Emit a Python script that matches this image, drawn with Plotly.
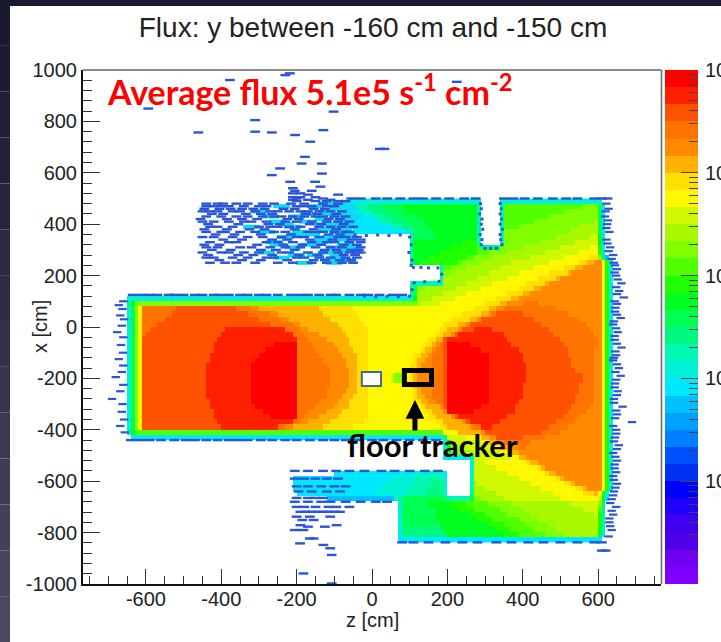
import plotly.graph_objects as go

W, H = 721, 642
BAND_COLORS = ["#ff0000", "#ff2000", "#ff5200", "#ff7400", "#ff8a00", "#ffb000", "#ffe000", "#fff800",
               "#d0f800", "#a8f800", "#80ff00", "#50ff00", "#20ff00", "#00ff20", "#00ff50", "#00f880",
               "#00f8b0", "#00f0d8", "#00e8ff", "#00c0ff", "#00a0ff", "#0080ff", "#0050ff", "#0030f0",
               "#0000ff", "#2000f8", "#4000f0", "#5000e8", "#7000f0", "#8000ff"]
DECADES = [3, 4, 5, 6, 7]
COLORBAR_LABELS = ["10"] * 5
FLUX_MIN_EXP, FLUX_MAX_EXP = 2, 7
Z_TICKS = [-600, -400, -200, 0, 200, 400, 600]
X_TICKS = [-1000, -800, -600, -400, -200, 0, 200, 400, 600, 800, 1000]

L = [(-650, 17), (-640, 14), (-630, 10), (-620, 7)]
R = [(610, 7), (620, 12), (630, 17), (640, -1)]

ROW_X = list(range(490, -831, -20))
ROW_SEGMENTS = [
    [(-60,17),(290,-1),(340,17),(610,-1)],
    [(-110,18),(-40,16),(-10,15),(30,14),(80,13),(280,16),(290,-1),(340,16),(350,11),(560,10),(600,14),(610,18),(620,-1)],
    [(-90,18),(-30,16),(0,15),(40,14),(90,13),(280,16),(290,-1),(340,16),(350,11),(510,10),(600,14),(610,18),(620,-1)],
    [(-80,18),(0,16),(30,15),(70,14),(120,13),(280,16),(290,-1),(340,16),(350,11),(470,10),(600,14),(610,18),(620,-1)],
    [(-70,18),(20,16),(50,15),(90,14),(140,13),(280,16),(290,-1),(340,16),(350,11),(430,10),(590,9),(600,14),(610,18),(620,-1)],
    [(-60,18),(50,16),(80,15),(110,14),(150,13),(280,16),(290,-1),(340,16),(350,11),(390,10),(550,9),(600,14),(610,18),(620,-1)],
    [(-50,18),(100,15),(120,14),(160,13),(280,16),(290,-1),(340,16),(350,10),(530,9),(600,14),(610,18),(620,-1)],
    [(100,16),(110,14),(170,13),(280,16),(290,-1),(340,16),(350,10),(490,9),(580,8),(600,13),(610,18),(620,-1)],
    [(100,16),(110,13),(240,12),(280,16),(290,-1),(340,16),(350,10),(450,9),(540,8),(600,13),(610,18),(620,-1)],
    [(100,16),(110,13),(210,12),(280,11),(290,15),(340,10),(400,9),(500,8),(580,7),(600,12),(610,17),(620,-1)],
    [(100,16),(110,13),(180,12),(280,11),(310,10),(360,9),(460,8),(550,7),(600,12),(610,17),(620,-1)],
    [(100,16),(110,13),(150,12),(250,11),(270,10),(320,9),(420,8),(510,7),(580,6),(600,10),(610,15),(620,19),(630,-1)],
    [(100,16),(110,13),(130,12),(230,11),(240,10),(290,9),(370,8),(470,7),(550,6),(570,5),(590,4)] + R,
    [(180,16),(190,11),(210,10),(250,9),(340,8),(430,7),(510,6),(540,5),(560,4)] + R,
    [(180,16),(190,10),(220,9),(310,8),(390,7),(470,6),(520,5),(530,4)] + R,
    [(180,16),(190,9),(280,8),(360,7),(440,6),(490,5),(500,4)] + R,
    [(100,16),(190,9),(250,8),(320,7),(410,6),(460,5),(470,4)] + R,
    [(100,16),(110,14),(120,10),(140,9),(220,8),(290,7),(390,6),(430,5),(450,4)] + R,
    [(100,16),(110,14),(120,9),(190,8),(250,7),(360,6),(400,5),(420,4)] + R,
    [(-650,17),(110,13),(120,9),(160,8),(220,7),(330,6),(370,5),(390,4)] + R,
    [(-650,15),(-640,13),(-630,10),(120,9),(130,8),(180,7),(300,6),(340,5),(360,4),(400,3),(440,4)] + R,
    L + [(-610,3),(-520,2),(-360,3),(-320,4),(-300,5),(-140,6),(-50,7),(270,6),(310,5),(330,4),(350,3),(490,4)] + R,
    L + [(-610,3),(-530,2),(-330,3),(-270,4),(-250,5),(-130,6),(-40,7),(240,6),(290,5),(310,4),(320,3),(330,2),(400,3),(520,4)] + R,
    L + [(-610,3),(-550,2),(-300,3),(-240,4),(-220,5),(-110,6),(-30,7),(210,6),(260,5),(280,4),(290,2),(430,3),(550,4)] + R,
    L + [(-610,3),(-570,2),(-270,3),(-210,4),(-190,5),(-90,6),(-20,7),(190,6),(230,5),(250,4),(260,2),(450,3),(570,4)] + R,
    L + [(-610,3),(-590,2),(-390,1),(-230,3),(-190,4),(-170,5),(-80,6),(-10,7),(180,6),(200,5),(230,4),(240,2),(270,1),(320,2),(470,3),(580,4)] + R,
    L + [(-610,3),(-600,2),(-400,1),(-210,3),(-180,4),(-140,5),(-70,6),(-10,7),(170,6),(190,5),(210,4),(220,2),(230,1),(350,2),(480,3),(590,4)] + R,
    L + [(-610,2),(-410,1),(-200,3),(-170,4),(-120,5),(-60,6),(-10,7),(150,6),(170,5),(190,2),(200,1),(360,2),(500,3),(600,4)] + R,
    L + [(-610,2),(-420,1),(-260,0),(-200,3),(-160,4),(-100,5),(-60,6),(-10,7),(140,6),(160,5),(170,4),(180,3),(190,2),(200,0),(260,1),(370,2),(510,3),(600,4)] + R,
    L + [(-610,2),(-420,1),(-280,0),(-200,3),(-150,4),(-90,5),(-50,6),(-10,7),(130,6),(140,5),(160,4),(170,3),(190,2),(200,0),(290,1),(390,2),(520,3),(590,4)] + R,
    L + [(-610,2),(-430,1),(-300,0),(-200,3),(-140,4),(-80,5),(-40,6),(-10,7),(110,6),(130,5),(150,4),(160,3),(190,2),(200,0),(310,1),(400,2),(520,3),(590,4)] + R,
    L + [(-610,2),(-430,1),(-310,0),(-200,3),(-130,4),(-70,5),(-40,6),(-10,7),(110,6),(120,5),(140,4),(160,3),(190,2),(200,0),(310,1),(400,2),(530,3),(590,4)] + R,
    L + [(-610,2),(-440,1),(-320,0),(-200,3),(-120,4),(-70,5),(-40,6),(-10,7),(100,6),(120,5),(130,4),(160,3),(190,2),(200,0),(310,1),(410,2),(530,3),(590,4)] + R,
    L + [(-610,2),(-440,1),(-320,0),(-200,3),(-110,4),(-60,5),(-40,6),(-10,7),(100,6),(110,5),(130,4),(160,3),(190,2),(200,0),(310,1),(410,2),(540,3),(590,4)] + R,
    L + [(-610,2),(-440,1),(-320,0),(-200,3),(-110,4),(-60,5),(-40,6),(-20,-1),(20,7),(50,8),(60,10),(80,7),(100,6),(110,5),(120,4),(160,3),(190,2),(200,0),(310,1),(410,2),(560,3),(590,4)] + R,
    L + [(-610,2),(-440,1),(-320,0),(-200,3),(-110,4),(-60,5),(-40,6),(-20,-1),(20,7),(50,8),(60,10),(80,7),(100,6),(110,5),(120,4),(160,3),(190,2),(200,0),(310,1),(410,2),(560,3),(590,4)] + R,
    L + [(-610,2),(-440,1),(-320,0),(-200,3),(-110,4),(-60,5),(-40,6),(-10,7),(100,6),(110,5),(120,4),(160,3),(190,2),(200,0),(310,1),(400,2),(550,3),(590,4)] + R,
    L + [(-610,2),(-440,1),(-320,0),(-200,3),(-120,4),(-70,5),(-40,6),(-10,7),(110,6),(120,5),(130,4),(160,3),(190,2),(200,0),(310,1),(400,2),(550,3),(590,4)] + R,
    L + [(-610,2),(-440,1),(-320,0),(-200,3),(-120,4),(-80,5),(-50,6),(-10,7),(110,6),(120,5),(140,4),(160,3),(190,2),(200,0),(310,1),(400,2),(540,3),(590,4)] + R,
    L + [(-610,2),(-430,1),(-320,0),(-200,3),(-140,4),(-90,5),(-60,6),(-10,7),(110,6),(130,5),(150,4),(170,3),(190,2),(200,0),(310,1),(390,2),(540,3),(590,4)] + R,
    L + [(-610,2),(-430,1),(-310,0),(-200,3),(-150,4),(-100,5),(-60,6),(-10,7),(130,6),(140,5),(180,4),(190,2),(200,0),(290,1),(380,2),(530,3),(580,4)] + R,
    L + [(-610,2),(-420,1),(-290,0),(-200,3),(-170,4),(-120,5),(-80,6),(-10,7),(140,6),(160,5),(190,4),(200,0),(270,1),(380,2),(520,3),(570,4)] + R,
    L + [(-610,2),(-420,1),(-270,0),(-200,3),(-180,4),(-140,5),(-90,6),(-10,7),(150,6),(170,5),(210,4),(220,2),(230,1),(360,2),(510,3),(550,4)] + R,
    L + [(-610,2),(-410,1),(-210,3),(-190,4),(-170,5),(-110,6),(-20,7),(170,6),(190,5),(240,4),(250,2),(260,1),(340,2),(490,3),(540,4)] + R,
    L + [(-610,2),(-400,1),(-250,3),(-230,4),(-210,5),(-130,6),(-50,7),(180,6),(200,5),(260,4),(270,3),(290,1),(320,2),(470,3),(520,4)] + R,
    [(-650,17),(-640,13),(-630,11),(190,7),(230,5),(290,4),(300,2),(450,3),(500,4)] + R,
    [(-640,18),(190,15),(200,8),(250,7),(290,5),(310,4),(330,2),(400,3),(460,4)] + R,
    [(190,17),(200,13),(210,8),(290,7),(310,5),(330,4),(350,3),(420,4)] + R,
    [(190,17),(200,13),(210,9),(240,8),(310,7),(340,5),(360,4),(390,3),(410,4)] + R,
    [(190,17),(200,13),(210,10),(240,9),(270,8),(340,7),(360,5),(390,4)] + R,
    [(190,18),(260,15),(270,8),(370,7),(390,5),(410,4)] + R,
    [(260,17),(270,8),(300,7),(410,6),(420,5),(440,4)] + R,
    [(260,17),(270,8),(330,7),(440,6),(450,5),(460,4)] + R,
    [(-100,18),(100,17),(160,16),(190,18),(200,-1),(260,17),(270,8),(360,7),(460,6),(470,5),(490,4)] + R,
    [(-210,18),(50,17),(120,16),(190,18),(200,-1),(260,16),(270,8),(390,7),(490,6),(500,5),(510,4)] + R,
    [(-210,18),(30,17),(110,16),(160,15),(190,17),(200,-1),(260,16),(270,9),(280,8),(420,7),(510,6),(530,5),(540,4)] + R,
    [(-210,18),(20,17),(100,16),(150,15),(190,17),(200,-1),(260,16),(270,9),(300,8),(450,7),(540,6),(560,5),(570,4)] + R,
    [(-200,18),(10,17),(90,16),(140,15),(190,17),(200,-1),(260,15),(270,9),(330,8),(480,7),(560,6),(590,5),(600,7),(610,12),(620,17),(630,-1)],
    [(-120,19),(60,17),(70,15),(90,14),(200,16),(260,14),(270,10),(290,9),(350,8),(500,7),(600,8),(610,13),(620,18),(630,-1)],
    [(70,17),(80,14),(150,13),(210,12),(250,11),(310,10),(370,9),(530,8),(600,10),(610,15),(620,-1)],
    [(70,17),(80,14),(170,13),(230,12),(270,11),(340,10),(400,9),(560,8),(600,11),(610,15),(620,-1)],
    [(70,17),(80,14),(170,13),(260,12),(300,11),(360,10),(420,9),(590,8),(600,12),(610,16),(620,-1)],
    [(70,17),(80,14),(170,13),(280,12),(320,11),(390,10),(440,9),(600,12),(610,16),(620,-1)],
    [(70,17),(80,14),(180,13),(310,12),(350,11),(410,10),(470,9),(600,12),(610,16),(620,-1)],
    [(70,17),(80,15),(190,13),(330,12),(370,11),(430,10),(490,9),(600,13),(610,17),(620,-1)],
    [(70,18),(80,15),(200,13),(350,12),(390,11),(460,10),(510,9),(600,14),(610,18),(620,-1)],
    [(70,18),(610,-1)],
]

# Scattered low-flux hits: (z, x) pairs, grouped by x row.
HIT_ROWS_BLUE = {
    987:[-218],961:[-377],954:[225],850:[-594],838:[-102],805:[-310],766:[-129],760:[-310],757:[-266,-461],747:[-204],721:[-164],693:[21,33],
    662:[-178],636:[-187,-133],617:[-244],597:[-133],591:[-266],565:[-217,-151],546:[-137],
    540:[-210],530:[-205,-160],520:[-190,-210],515:[-170,-90],505:[-150,-210,-190],500:[-130,-200,-55,-30,10,40,75,110,135,170,205,245,275,350,375,405,440,480,515,545,590,610,625],
    495:[-110,-210,-170],490:[-90,-70,-200,-120,-150],
    480:[-440,-410,-395,-360,-330,-290,-260,-215,-180,-130,-90],
    470:[-440,-420,-400,-380,-340,-300,-280,-200,-180,-160,-120,-100],
    460:[-445,-405,-375,-345,-315,-285,-235,-205,-155,-125],
    450:[-450,-430,-410,-370,-350,-310,-270,-250,-220,-190,-170,-140,-110,-80],
    440:[-425,-395,-335,-295,-265,-175,-145,-95],
    430:[-440,-400,-360,-330,-290,-260,-240,-210,-180,-150,-130,-100,-70],
    420:[-455,-385,-345,-305,-225,-195,-115,-85],
    410:[-450,-420,-380,-340,-320,-280,-230,-200,-160,-120,-90,-60],
    400:[-435,-355,-275,-245,-165,-135,-75],
    390:[-430,-410,-370,-300,-270,-250,-220,-190,-140,-110,-80,-50],
    380:[-445,-385,-325,-285,-205,-155,-95],
    370:[-440,-400,-390,-350,-310,-260,-230,-170,-150,-130,-100,-70,-60],
    360:[-415,-365,-295,-215,-115,-85],
    350:[-450,-420,-370,-330,-290,-240,-200,-180,-140,-90,-70,-40],
    340:[-395,-345,-265,-225,-165,-105,-55,-30],
    330:[-430,-380,-360,-280,-250,-210,-160,-120,-100,-60,-30],
    320:[-445,-405,-305,-235,-185,-135,-75,-40],
    310:[-440,-410,-350,-320,-270,-230,-190,-150,-110,-80,-30],
    300:[-425,-375,-295,-255,-205,-125,-95,-55,-35],
    290:[-450,-400,-380,-340,-300,-240,-220,-170,-130,-90,-60,-40,-30],
    280:[-435,-355,-315,-265,-195,-145,-75,-45],
    270:[-440,-420,-370,-330,-280,-260,-200,-180,-140,-110,-70,-40],
    260:[-405,-345,-295,-225,-155,-125,-85,-55],
    250:[-430,-390,-360,-310,-250,-210,-160,-120,-80,-50],
    125:[-635,-610,-590,-570,-540,-525,-500,-470,-450,-420,-405,-380,-350,-330,-300,-280,-250,-215,-190,-170,-140,-110,-95,-60,-30,-10,20,55,80],
    -440:[-640,-615,-590,-560,-525,-495,-470,-440,-410,-380,-355,-330,-295,-265,-230,-200,-165,-130,-100,-70,-35,0,30,65,100,135,170],
    -560:[-205,-170,-130,-95,-60,-20,25,60,100,140,175],
    -590:[-205,-180,-150,-120,-90],
    -620:[-200,-170,-135,-100,-70],
    -640:[-195,-160,-120,-85],
    -665:[-200,-170,-150,-130],
    -680:[-205,-170,-135,-110,-70,-30,10,40],
    -700:[-200,-180,-150,-115,-95,-60],
    -719:[-190,-175,-160,-145,-130,-115,-100,-85],
    -738:[-200,-165,-111],
    -751:[-155,-185],-777:[-125,-170],-771:[-94,-190],-790:[-182,-205],-823:[-155,-165],-842:[-191],-848:[-129],-861:[-111],-887:[-107],-959:[-182],-998:[-107],
    -838:[80,110,150,195,240,280,330,370,415,455,500,545,590,610],
    -870:[610,620],
    980:[-230],
}
EDGE_LEFT_X = [100,85,70,45,30,5,-20,-40,-70,-100,-125,-150,-175,-195,-225,-250,-280,-300,-330,-360,-385,-410]
EDGE_LEFT_Z = [-660,-672,-662,-668,-658,-664,-676,-660,-666,-661,-672,-660,-664,-680,-660,-668,-690,-662,-664,-658,-668,-656]
EDGE_RIGHT_X = [480,460,430,400,370,340,310,280,250,225,200,170,140,115,90,60,35,10,-20,-50,-80,-110,-130,-160,-190,-220,-250,-280,-310,-340,-370,-400,-430,-460,-490,-520,-550,-580,-610,-640,-670,-700,-730,-760,-790,-815,
                450,415,385,325,295,265,240,212,185,155,128,100,75,48,22,-5,-35,-65,-95,-120,-145,-175,-205,-235,-265,-295,-325,-355,-385,-415,-445,-475,-505,-535,-565,-595,-625,-655,-685,-715,-745,-775]
EDGE_RIGHT_Z = [622,628,618,624,630,622,632,640,642,650,648,662,656,668,650,645,660,640,652,644,662,648,640,655,660,645,652,642,665,650,690,648,645,655,640,650,644,640,650,642,636,648,640,630,636,628,
                620,626,622,625,628,636,645,644,652,648,650,644,646,650,642,648,644,650,646,642,650,646,648,644,650,642,648,645,640,648,642,650,646,644,648,642,646,640,632,636,630,632]
CYAN_HIT_X = [470,470,450,450,430,430,430,410,410,410,390,390,390,370,370,370,350,350,330,330,310,310,290,290,270,270,250,440,400,360,320,280,440,400,360,320,280,460,420,380,340,300,260,
              480,480,460,440,420,400,380,360,340,320,300,280,260,250,470,430,390,350,310]
CYAN_HIT_Z = [-240,-150,-300,-120,-270,-200,-90,-250,-170,-80,-320,-210,-100,-280,-190,-90,-230,-110,-260,-140,-210,-100,-280,-120,-240,-90,-180,-170,-230,-160,-170,-200,-110,-130,-200,-250,-150,-90,-130,-120,-80,-70,-110,
              -120,-75,-60,-70,-60,-95,-75,-65,-130,-70,-60,-90,-65,-100,-65,-50,-55,-60,-50]
NOTCH_RIM_X = [480,460,440,420,400,380,360,340,320,306,306,306,320,340,360,380,400,420,440,460,480]
NOTCH_RIM_Z = [288,290,286,292,290,294,287,292,290,300,315,330,345,342,340,346,340,344,340,343,340]
CUTOUT_RIM_Z = [-45,-15,15,45,75,100,104,98,106,104,110,130,150,175,185,178,140,112,106,100,70,40,10,-20,-50,-60]
CUTOUT_RIM_X = [358,356,358,356,358,350,320,290,260,240,232,232,230,230,205,178,176,172,145,120,118,120,118,120,290,260]


def level_to_exp(level):
    return FLUX_MAX_EXP - (level + 0.5) * (FLUX_MAX_EXP - FLUX_MIN_EXP) / len(BAND_COLORS)


z_centers = [c + 5 for c in range(-770, 770, 10)]
matrix = []
for segs in ROW_SEGMENTS:
    row = [None] * len(z_centers)
    for (start, lev), (end, _) in zip(segs, segs[1:] + [(770, -1)]):
        if lev < 0:
            continue
        for i, c in enumerate(z_centers):
            if start <= c - 5 < end:
                row[i] = level_to_exp(lev)
    matrix.append(row)

n = len(BAND_COLORS)
colorscale = []
for i, col in enumerate(reversed(BAND_COLORS)):
    colorscale.append([i / n, col])
    colorscale.append([(i + 1) / n, col])

hit_x, hit_z = [], []
for xv, zs in HIT_ROWS_BLUE.items():
    for zv in zs:
        hit_x.append(xv)
        hit_z.append(zv)

fig = go.Figure()
fig.add_trace(go.Heatmap(x=z_centers, y=ROW_X, z=matrix, colorscale=colorscale, zmin=FLUX_MIN_EXP, zmax=FLUX_MAX_EXP,
                         showscale=False, hoverongaps=False, xaxis="x", yaxis="y"))
fig.add_trace(go.Scatter(x=CYAN_HIT_Z, y=CYAN_HIT_X, mode="markers",
                         marker=dict(symbol="line-ew", size=12, line=dict(width=4, color="#10d8f0")),
                         showlegend=False, xaxis="x", yaxis="y"))
fig.add_trace(go.Scatter(x=hit_z, y=hit_x, mode="markers",
                         marker=dict(symbol="line-ew", size=7, line=dict(width=2.4, color="#2a55d8")),
                         showlegend=False, xaxis="x", yaxis="y"))
fig.add_trace(go.Scatter(x=EDGE_LEFT_Z + EDGE_RIGHT_Z, y=EDGE_LEFT_X + EDGE_RIGHT_X, mode="markers",
                         marker=dict(symbol="line-ew", size=6, line=dict(width=2.2, color="#2a55d8")),
                         showlegend=False, xaxis="x", yaxis="y"))
fig.add_trace(go.Scatter(x=NOTCH_RIM_Z + CUTOUT_RIM_Z, y=NOTCH_RIM_X + CUTOUT_RIM_X, mode="markers",
                         marker=dict(symbol="square", size=3, color="#2a55d8", line=dict(width=0)),
                         showlegend=False, xaxis="x", yaxis="y"))
bar_centres = [level_to_exp(i) for i in range(n)]
fig.add_trace(go.Heatmap(x=[0.5], y=bar_centres, z=[[v] for v in bar_centres], colorscale=colorscale,
                         zmin=FLUX_MIN_EXP, zmax=FLUX_MAX_EXP, showscale=False, xaxis="x2", yaxis="y2"))

TICK_FONT = dict(family="Liberation Sans", size=20, color="#222222")
dom_y = [1 - 584 / H, 1 - 70 / H]
minor_bar = [d + m for d in range(FLUX_MIN_EXP, FLUX_MAX_EXP)
             for m in (0.301, 0.477, 0.602, 0.699, 0.778, 0.845, 0.903, 0.954)]


def px_x(v):
    return v / W


def px_y(v):
    return 1 - v / H


shapes = [
    dict(type="rect", xref="paper", yref="paper", x0=0, x1=1, y0=0, y1=px_y(6), fillcolor="white",
         line=dict(width=0), layer="below"),
]
STRIP_COLORS = ["#191930", "#1b1b32", "#1e1e36", "#21213a", "#25253e", "#292942", "#2d2d46", "#31314a",
                "#35354e", "#393952", "#3d3d56", "#41415a", "#45455e", "#494962"]
for i, col in enumerate(STRIP_COLORS):
    shapes.append(dict(type="rect", xref="paper", yref="paper", x0=0, x1=px_x(10),
                       y0=px_y((i + 1) * H / len(STRIP_COLORS)), y1=px_y(i * H / len(STRIP_COLORS)),
                       fillcolor=col, line=dict(width=0), layer="below"))
shapes += [
    dict(type="line", xref="paper", yref="paper", x0=px_x(83), x1=px_x(661.5), y0=px_y(70), y1=px_y(70),
         line=dict(color="#666666", width=1.5)),
    dict(type="line", xref="paper", yref="paper", x0=px_x(661.5), x1=px_x(661.5), y0=px_y(70), y1=px_y(584),
         line=dict(color="#666666", width=1.5)),
    dict(type="rect", xref="x", yref="y", x0=-27, x1=24, y0=-230, y1=-175, fillcolor="white",
         line=dict(color="#4a6a8a", width=2)),
    dict(type="rect", xref="x", yref="y", x0=86, x1=158, y0=-224, y1=-169,
         line=dict(color="black", width=5)),
]

fig.update_layout(
    width=W, height=H, autosize=False, margin=dict(l=0, r=0, t=0, b=0, pad=0),
    paper_bgcolor="#191930", plot_bgcolor="white", showlegend=False,
    title=dict(text="Flux: y between -160 cm and -150 cm", x=373 / W, xanchor="center", y=1 - 27 / H, yanchor="middle",
               font=dict(family="Liberation Sans", size=28, color="#222222")),
    xaxis=dict(domain=[83 / W, 661 / W], range=[-767, 767], tickmode="array", tickvals=Z_TICKS, automargin=False,
               ticktext=[str(v) for v in Z_TICKS], ticks="inside", ticklen=15, tickwidth=1.2, tickcolor="#333333",
               minor=dict(ticks="inside", ticklen=8, tickwidth=1.2, tickcolor="#333333", dtick=50, tick0=0, showgrid=False),
               showgrid=False, zeroline=False, showline=True, linecolor="#111111", linewidth=2, anchor="y",
               tickfont=TICK_FONT, ticklabelstandoff=-4),
    yaxis=dict(domain=dom_y, range=[-1000, 1000], tickmode="array", tickvals=X_TICKS, automargin=False,
               ticktext=[str(v) for v in X_TICKS], ticks="inside", ticklen=17, tickwidth=1.2, tickcolor="#333333",
               minor=dict(ticks="inside", ticklen=9, tickwidth=1.2, tickcolor="#333333", dtick=40, tick0=0, showgrid=False),
               showgrid=False, zeroline=False, showline=True, linecolor="#111111", linewidth=2, anchor="x",
               tickfont=TICK_FONT),
    xaxis2=dict(domain=[665 / W, 698 / W], range=[0, 1], visible=False, anchor="y2", automargin=False),
    yaxis2=dict(domain=dom_y, range=[FLUX_MIN_EXP, FLUX_MAX_EXP], side="right", anchor="x2", tickmode="array",
                tickvals=DECADES, automargin=False,
                ticktext=COLORBAR_LABELS, ticks="inside", ticklen=17, tickwidth=1.2, tickcolor="#444444",
                minor=dict(ticks="inside", ticklen=9, tickwidth=1.2, tickcolor="#444444", tickmode="array",
                           tickvals=minor_bar, showgrid=False),
                showgrid=False, zeroline=False, showline=False, tickfont=TICK_FONT, ticklabelstandoff=6),
    shapes=shapes,
    annotations=[
        dict(text="<b>Average flux 5.1e5 s<sup>-1</sup> cm<sup>-2</sup></b>", xref="paper", yref="paper",
             x=105 / W, y=px_y(90), xanchor="left", yanchor="middle", showarrow=False,
             font=dict(family="Lato", size=34, color="#ff0000")),
        dict(text="<b>floor tracker</b>", xref="paper", yref="paper", x=433 / W, y=px_y(445),
             xanchor="center", yanchor="middle", showarrow=False,
             font=dict(family="Lato", size=31, color="black")),
        dict(text="", x=114, y=-284, xref="x", yref="y", ax=0, ay=32, showarrow=True,
             arrowhead=2, arrowsize=0.75, arrowwidth=5, arrowcolor="black"),
        dict(text="z [cm]", xref="paper", yref="paper", x=372 / W, y=px_y(620), xanchor="center", yanchor="middle",
             showarrow=False, font=TICK_FONT),
        dict(text="x [cm]", xref="paper", yref="paper", x=40 / W, y=px_y(327), xanchor="center", yanchor="middle",
             textangle=-90, showarrow=False, font=TICK_FONT),
    ],
)

fig.write_html("out.html", config={"displayModeBar": False},
               post_script="document.body.style.margin='0';document.documentElement.style.overflow='hidden';")
